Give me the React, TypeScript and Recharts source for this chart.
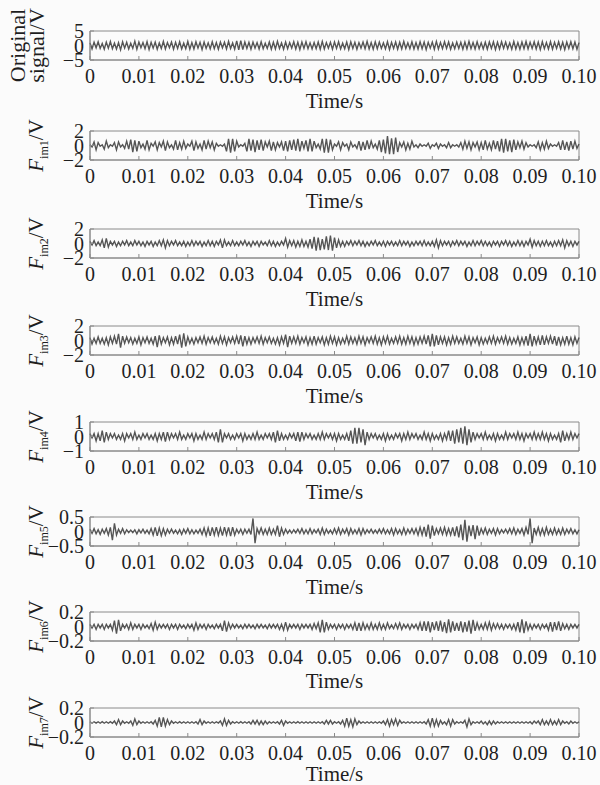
import { LineChart, Line, XAxis, YAxis, ReferenceArea, Label } from "recharts";

const ORIGINAL = [
  0.9, -1.2, 1.1, -0.8, 1.3, -1.0, 0.7, -1.3, 1.2, -0.9,
  1.4, -1.1, 0.8, -1.2, 1.0, -1.5, 1.3, -0.9, 1.1, -1.2,
  0.8, -1.0, 1.5, -1.3, 1.2, -0.8, 1.0, -1.1, 1.3, -1.4,
  1.1, -0.9, 1.2, -1.3, 0.9, -1.0, 1.4, -1.2, 1.0, -0.8,
  1.2, -1.3, 1.1, -1.0, 1.3, -1.2, 0.8, -1.1, 1.4, -1.3,
  1.0, -1.2, 1.3, -0.9, 1.1, -1.4, 1.2, -1.0, 0.9, -1.2,
  1.3, -1.1, 1.0, -1.3, 1.2, -0.8, 1.1, -1.2, 1.4, -1.0,
  0.9, -1.3, 1.6, -1.5, 1.7, -1.4, 1.2, -1.0, 1.1, -1.3,
  1.2, -0.9, 1.0, -1.2, 1.3, -1.1, 0.8, -1.0, 1.2, -1.3,
  1.1, -1.2, 1.4, -1.0, 0.9, -1.3, 1.2, -1.1, 1.0, -0.9,
  1.3, -1.2, 1.1, -1.4, 1.2, -1.0, 1.3, -1.1, 0.9, -1.2,
  1.0, -1.1, 1.2, -1.3, 1.4, -1.2, 1.0, -0.9, 1.1, -1.3,
  1.2, -1.0, 1.3, -1.2, 0.8, -1.1, 1.2, -1.4, 1.3, -1.0,
  1.1, -1.3, 1.0, -0.9, 1.2, -1.1, 1.4, -1.2, 1.0, -1.3,
  1.3, -1.1, 1.2, -1.0, 0.9, -1.2, 1.3, -1.4, 1.1, -1.0,
  1.2, -1.3, 1.1, -1.2, 1.4, -1.0, 0.9, -1.1, 1.3, -1.2,
  1.0, -1.2, 1.3, -1.1, 1.2, -1.4, 1.1, -0.9, 1.2, -1.3,
  1.4, -1.2, 1.0, -1.1, 1.3, -1.0, 1.2, -1.3, 0.9, -1.1,
  1.2, -1.0, 1.1, -1.3, 1.2, -1.2, 1.4, -1.1, 1.0, -1.2,
  1.3, -1.1, 0.9, -1.2, 1.1, -1.3, 1.2, -1.0, 1.3, -1.4,
  1.1, -1.2, 1.3, -1.0, 1.2, -1.1, 0.9, -1.3, 1.4, -1.2,
  1.0, -1.3, 1.2, -1.1, 1.4, -1.2, 1.1, -1.0, 1.3, -1.2,
  1.2, -1.4, 1.3, -1.1, 1.0, -1.2, 1.3, -1.3, 1.1, -1.0,
  1.3, -1.2, 1.1, -1.4, 1.2, -1.0, 1.3, -1.1, 1.2, -1.3,
  1.0,
];
const FIM1 = [
  0.1, -0.2, 0.5, -0.6, 0.4, -0.1, 0.1, -0.5, 0.6, -0.3,
  0.1, -0.1, 0.4, -0.6, 0.5, -0.2, 0.1, -0.4, 0.6, -0.5,
  0.8, -0.9, 0.7, -0.8, 0.6, -0.3, 0.2, -0.5, 0.7, -0.6,
  0.3, -0.1, 0.5, -0.6, 0.4, -0.2, 0.6, -0.7, 0.5, -0.3,
  0.1, -0.5, 0.7, -0.6, 0.4, -0.5, 0.6, -0.4, 0.2, -0.1,
  0.6, -0.7, 0.5, -0.4, 0.2, -0.6, 0.7, -0.5, 0.6, -0.3,
  0.5, -0.6, 0.3, -0.1, 0.1, -0.1, 0.2, -0.8, 0.9, -1.0,
  0.9, -0.8, 0.6, -0.2, 0.1, -0.1, 0.3, -0.8, 0.9, -0.7,
  0.8, -0.9, 0.7, -0.6, 0.8, -0.7, 0.5, -0.2, 0.6, -0.7,
  0.5, -0.6, 0.4, -0.2, 0.5, -0.7, 0.6, -0.8, 0.7, -0.6,
  0.8, -0.7, 0.9, -0.8, 0.6, -0.4, 0.7, -0.8, 0.9, -0.8,
  0.6, -0.3, 0.2, -0.5, 0.9, -1.0, 0.9, -1.0, 0.8, -0.6,
  0.2, -0.1, 0.5, -0.6, 0.4, -0.1, 0.2, -0.6, 0.5, -0.2,
  0.1, -0.4, 0.6, -0.7, 0.5, -0.6, 0.7, -0.5, 0.6, -0.3,
  0.2, -0.5, 0.7, -0.9, 0.8, -1.1, 1.3, -1.2, 1.0, -1.2,
  1.1, -0.9, 0.4, -0.2, 0.5, -0.6, 0.3, -0.5, 0.6, -0.2,
  0.1, -0.3, 0.2, -0.1, 0.1, -0.1, 0.3, -0.4, 0.1, -0.1,
  0.3, -0.4, 0.2, -0.1, 0.1, -0.3, 0.4, -0.3, 0.1, -0.1,
  0.1, -0.2, 0.4, -0.5, 0.6, -0.4, 0.5, -0.6, 0.4, -0.2,
  0.5, -0.6, 0.4, -0.6, 0.7, -0.5, 0.3, -0.6, 0.7, -0.5,
  0.6, -0.8, 0.9, -1.0, 0.9, -0.8, 0.7, -0.9, 0.8, -0.6,
  0.5, -0.3, 0.6, -0.5, 0.4, -0.2, 0.1, -0.1, 0.1, -0.3,
  0.5, -0.6, 0.4, -0.5, 0.6, -0.4, 0.2, -0.1, 0.1, -0.1,
  0.4, -0.6, 0.7, -0.6, 0.5, -0.7, 0.6, -0.5, 0.6, -0.4,
  0.2,
];
const FIM2 = [
  0.3, -0.2, 0.4, -0.3, 0.2, -0.3, 0.5, -0.6, 0.7, -0.5,
  0.3, -0.2, 0.3, -0.4, 0.2, -0.3, 0.3, -0.2, 0.4, -0.3,
  0.2, -0.3, 0.4, -0.2, 0.3, -0.3, 0.2, -0.4, 0.3, -0.2,
  0.3, -0.4, 0.2, -0.3, 0.4, -0.3, 0.5, -0.6, 0.4, -0.3,
  0.3, -0.2, 0.4, -0.3, 0.2, -0.3, 0.3, -0.4, 0.2, -0.3,
  0.4, -0.3, 0.3, -0.2, 0.3, -0.4, 0.2, -0.3, 0.4, -0.3,
  0.3, -0.4, 0.3, -0.2, 0.5, -0.6, 0.5, -0.3, 0.2, -0.3,
  0.4, -0.3, 0.2, -0.3, 0.3, -0.2, 0.4, -0.3, 0.2, -0.4,
  0.3, -0.2, 0.3, -0.4, 0.3, -0.2, 0.2, -0.3, 0.4, -0.3,
  0.3, -0.4, 0.2, -0.3, 0.3, -0.2, 0.7, -0.5, 0.4, -0.3,
  0.4, -0.5, 0.3, -0.4, 0.5, -0.4, 0.3, -0.5, 0.6, -0.7,
  0.9, -1.0, 0.8, -0.9, 0.6, -0.8, 1.0, -0.9, 1.1, -1.0,
  0.8, -0.6, 0.5, -0.4, 0.3, -0.4, 0.3, -0.2, 0.4, -0.3,
  0.3, -0.2, 0.4, -0.3, 0.3, -0.4, 0.2, -0.3, 0.3, -0.2,
  0.4, -0.3, 0.2, -0.3, 0.3, -0.4, 0.3, -0.2, 0.3, -0.3,
  0.2, -0.3, 0.4, -0.3, 0.3, -0.2, 0.3, -0.4, 0.2, -0.3,
  0.3, -0.2, 0.3, -0.3, 0.4, -0.3, 0.2, -0.3, 0.3, -0.4,
  0.5, -0.6, 0.4, -0.3, 0.3, -0.2, 0.3, -0.4, 0.3, -0.2,
  0.4, -0.3, 0.3, -0.2, 0.3, -0.4, 0.2, -0.3, 0.4, -0.3,
  0.3, -0.2, 0.4, -0.3, 0.3, -0.3, 0.2, -0.4, 0.3, -0.2,
  0.3, -0.4, 0.3, -0.2, 0.4, -0.3, 0.3, -0.4, 0.2, -0.3,
  0.4, -0.3, 0.3, -0.4, 0.3, -0.2, 0.6, -0.5, 0.4, -0.3,
  0.3, -0.4, 0.3, -0.3, 0.4, -0.3, 0.2, -0.4, 0.3, -0.3,
  0.4, -0.3, 0.5, -0.6, 0.4, -0.3, 0.3, -0.4, 0.3, -0.2,
  0.3,
];
const FIM3 = [
  0.4, -0.5, 0.3, -0.4, 0.5, -0.4, 0.3, -0.5, 0.4, -0.6,
  0.5, -0.4, 0.6, -0.5, 0.9, -1.0, 0.6, -0.4, 0.5, -0.3,
  0.4, -0.5, 0.3, -0.4, 0.5, -0.6, 0.4, -0.3, 0.5, -0.4,
  0.3, -0.5, 0.6, -0.9, 0.7, -0.5, 0.4, -0.3, 0.5, -0.6,
  0.4, -0.5, 0.6, -0.5, 0.8, -1.0, 1.0, -0.8, 0.5, -0.4,
  0.3, -0.5, 0.4, -0.3, 0.5, -0.4, 0.6, -0.5, 0.4, -0.3,
  0.5, -0.4, 0.3, -0.5, 0.6, -0.4, 0.5, -0.6, 0.4, -0.3,
  0.5, -0.4, 0.6, -0.5, 0.7, -0.8, 0.6, -0.5, 0.4, -0.5,
  0.4, -0.3, 0.5, -0.4, 0.6, -0.5, 0.4, -0.3, 0.5, -0.4,
  0.3, -0.5, 0.4, -0.6, 0.5, -0.4, 0.8, -0.9, 0.6, -0.4,
  0.5, -0.4, 0.6, -0.5, 0.4, -0.3, 0.5, -0.6, 0.4, -0.5,
  0.6, -0.5, 0.4, -0.3, 0.5, -0.6, 0.4, -0.5, 0.6, -0.4,
  0.5, -0.6, 0.4, -0.5, 0.3, -0.4, 0.6, -0.5, 0.5, -0.4,
  0.4, -0.5, 0.6, -0.4, 0.5, -0.6, 0.4, -0.3, 0.5, -0.4,
  0.6, -0.5, 0.4, -0.6, 0.5, -0.4, 0.6, -0.5, 0.3, -0.4,
  0.5, -0.4, 0.6, -0.5, 0.4, -0.5, 0.6, -0.4, 0.5, -0.6,
  0.4, -0.5, 0.5, -0.4, 0.6, -0.5, 0.7, -0.8, 0.9, -0.8,
  0.7, -0.6, 0.5, -0.4, 0.5, -0.6, 0.4, -0.5, 0.6, -0.4,
  0.5, -0.4, 0.3, -0.5, 0.6, -0.4, 0.5, -0.6, 0.4, -0.3,
  0.5, -0.6, 0.4, -0.5, 0.3, -0.4, 0.5, -0.4, 0.6, -0.5,
  0.4, -0.3, 0.5, -0.4, 0.6, -0.5, 0.4, -0.5, 0.3, -0.4,
  0.5, -0.6, 0.4, -0.5, 0.6, -0.7, 0.9, -0.8, 0.6, -0.5,
  0.5, -0.6, 0.7, -0.6, 0.5, -0.4, 0.6, -0.5, 0.6, -0.7,
  0.5, -0.6, 0.4, -0.5, 0.6, -0.5, 0.4, -0.6, 0.5, -0.4,
  0.4,
];
const FIM4 = [
  0.2, -0.1, 0.2, -0.3, 0.2, -0.3, 0.4, -0.4, 0.3, -0.2,
  0.2, -0.1, 0.2, -0.2, 0.1, -0.2, 0.2, -0.3, 0.2, -0.1,
  0.2, -0.2, 0.3, -0.2, 0.1, -0.2, 0.2, -0.1, 0.2, -0.2,
  0.1, -0.2, 0.2, -0.3, 0.2, -0.2, 0.3, -0.35, 0.3, -0.2,
  0.2, -0.1, 0.2, -0.2, 0.3, -0.2, 0.1, -0.2, 0.2, -0.1,
  0.2, -0.3, 0.2, -0.2, 0.1, -0.2, 0.3, -0.2, 0.2, -0.1,
  0.2, -0.2, 0.3, -0.4, 0.5, -0.4, 0.2, -0.1, 0.2, -0.2,
  0.1, -0.2, 0.2, -0.1, 0.2, -0.3, 0.2, -0.2, 0.1, -0.2,
  0.2, -0.2, 0.3, -0.2, 0.1, -0.2, 0.2, -0.1, 0.2, -0.2,
  0.3, -0.4, 0.4, -0.3, 0.2, -0.2, 0.1, -0.2, 0.2, -0.1,
  0.2, -0.3, 0.3, -0.35, 0.3, -0.2, 0.2, -0.1, 0.2, -0.2,
  0.1, -0.2, 0.2, -0.2, 0.3, -0.2, 0.2, -0.1, 0.2, -0.2,
  0.2, -0.3, 0.2, -0.2, 0.1, -0.2, 0.2, -0.3, 0.4, -0.5,
  0.6, -0.5, 0.6, -0.4, 0.5, -0.6, 0.3, -0.2, 0.2, -0.1,
  0.2, -0.2, 0.1, -0.2, 0.2, -0.3, 0.2, -0.2, 0.1, -0.2,
  0.2, -0.1, 0.2, -0.3, 0.2, -0.2, 0.3, -0.2, 0.2, -0.1,
  0.2, -0.2, 0.1, -0.2, 0.3, -0.2, 0.2, -0.3, 0.2, -0.2,
  0.1, -0.2, 0.2, -0.3, 0.2, -0.2, 0.4, -0.3, 0.4, -0.5,
  0.5, -0.4, 0.6, -0.5, 0.7, -0.6, 0.5, -0.4, 0.3, -0.2,
  0.2, -0.1, 0.2, -0.2, 0.3, -0.2, 0.1, -0.2, 0.2, -0.3,
  0.2, -0.2, 0.1, -0.2, 0.3, -0.2, 0.2, -0.1, 0.2, -0.2,
  0.3, -0.2, 0.2, -0.3, 0.2, -0.1, 0.2, -0.2, 0.3, -0.2,
  0.2, -0.2, 0.3, -0.2, 0.2, -0.3, 0.2, -0.2, 0.1, -0.2,
  0.2, -0.4, 0.4, -0.3, 0.2, -0.2, 0.3, -0.2, 0.2, -0.1,
  0.2,
];
const FIM5 = [
  0.08, -0.06, 0.1, -0.08, 0.06, -0.1, 0.08, -0.06, 0.1, -0.12,
  0.14, -0.3, 0.28, -0.12, 0.08, -0.06, 0.1, -0.08, 0.06, -0.04,
  0.05, -0.04, 0.06, -0.08, 0.06, -0.05, 0.08, -0.06, 0.05, -0.08,
  0.1, -0.12, 0.14, -0.15, 0.12, -0.14, 0.1, -0.12, 0.08, -0.06,
  0.08, -0.06, 0.05, -0.08, 0.06, -0.1, 0.08, -0.06, 0.1, -0.08,
  0.06, -0.08, 0.05, -0.06, 0.08, -0.1, 0.12, -0.14, 0.12, -0.15,
  0.14, -0.12, 0.15, -0.13, 0.12, -0.14, 0.15, -0.12, 0.14, -0.16,
  0.15, -0.12, 0.08, -0.06, 0.08, -0.1, 0.08, -0.06, 0.08, -0.1,
  0.45, -0.4, 0.1, -0.08, 0.12, -0.1, 0.08, -0.1, 0.12, -0.1,
  0.08, -0.1, 0.2, -0.18, 0.12, -0.1, 0.08, -0.06, 0.05, -0.06,
  0.06, -0.05, 0.08, -0.06, 0.1, -0.08, 0.06, -0.08, 0.1, -0.08,
  0.06, -0.05, 0.08, -0.1, 0.12, -0.1, 0.08, -0.06, 0.05, -0.08,
  0.1, -0.08, 0.12, -0.1, 0.08, -0.06, 0.1, -0.12, 0.1, -0.08,
  0.06, -0.08, 0.1, -0.12, 0.1, -0.08, 0.06, -0.05, 0.08, -0.06,
  0.05, -0.06, 0.08, -0.06, 0.1, -0.08, 0.06, -0.08, 0.1, -0.12,
  0.1, -0.08, 0.06, -0.1, 0.12, -0.1, 0.08, -0.06, 0.1, -0.08,
  0.1, -0.12, 0.14, -0.12, 0.16, -0.18, 0.24, -0.25, 0.2, -0.14,
  0.1, -0.08, 0.12, -0.1, 0.14, -0.12, 0.1, -0.12, 0.14, -0.16,
  0.18, -0.2, 0.24, -0.3, 0.4, -0.35, 0.2, -0.16, 0.22, -0.26,
  0.2, -0.14, 0.1, -0.08, 0.12, -0.1, 0.08, -0.06, 0.1, -0.12,
  0.1, -0.08, 0.06, -0.05, 0.08, -0.06, 0.1, -0.08, 0.12, -0.1,
  0.08, -0.06, 0.1, -0.12, 0.14, -0.1, 0.45, -0.4, 0.12, -0.1,
  0.14, -0.12, 0.1, -0.12, 0.14, -0.1, 0.08, -0.1, 0.12, -0.1,
  0.08, -0.1, 0.12, -0.1, 0.08, -0.06, 0.1, -0.08, 0.06, -0.08,
  0.06,
];
const FIM6 = [
  0.03, -0.02, 0.03, -0.04, 0.03, -0.02, 0.03, -0.04, 0.03, -0.02,
  0.03, -0.05, 0.08, -0.1, 0.09, -0.06, 0.03, -0.02, 0.03, -0.04,
  0.05, -0.04, 0.03, -0.02, 0.03, -0.04, 0.03, -0.02, 0.02, -0.03,
  0.04, -0.05, 0.06, -0.04, 0.03, -0.02, 0.03, -0.02, 0.03, -0.04,
  0.03, -0.02, 0.03, -0.04, 0.03, -0.02, 0.02, -0.03, 0.03, -0.02,
  0.03, -0.05, 0.05, -0.04, 0.03, -0.02, 0.03, -0.04, 0.03, -0.02,
  0.02, -0.03, 0.03, -0.02, 0.03, -0.06, 0.08, -0.07, 0.05, -0.03,
  0.03, -0.02, 0.03, -0.02, 0.02, -0.03, 0.03, -0.02, 0.03, -0.02,
  0.02, -0.03, 0.03, -0.02, 0.03, -0.02, 0.02, -0.03, 0.03, -0.02,
  0.03, -0.02, 0.03, -0.04, 0.03, -0.05, 0.06, -0.05, 0.03, -0.02,
  0.03, -0.02, 0.03, -0.04, 0.03, -0.02, 0.03, -0.02, 0.03, -0.04,
  0.04, -0.03, 0.05, -0.08, 0.09, -0.08, 0.06, -0.04, 0.03, -0.02,
  0.03, -0.04, 0.03, -0.02, 0.03, -0.04, 0.03, -0.02, 0.03, -0.04,
  0.05, -0.06, 0.05, -0.06, 0.05, -0.04, 0.03, -0.04, 0.05, -0.04,
  0.03, -0.04, 0.05, -0.04, 0.03, -0.04, 0.05, -0.03, 0.02, -0.03,
  0.04, -0.03, 0.05, -0.04, 0.03, -0.02, 0.03, -0.04, 0.03, -0.02,
  0.03, -0.04, 0.05, -0.06, 0.07, -0.06, 0.07, -0.08, 0.06, -0.05,
  0.07, -0.06, 0.08, -0.07, 0.06, -0.09, 0.1, -0.08, 0.07, -0.06,
  0.05, -0.06, 0.07, -0.08, 0.06, -0.07, 0.08, -0.1, 0.09, -0.06,
  0.05, -0.04, 0.03, -0.04, 0.05, -0.04, 0.06, -0.05, 0.04, -0.03,
  0.04, -0.03, 0.03, -0.04, 0.03, -0.02, 0.03, -0.04, 0.03, -0.05,
  0.06, -0.08, 0.1, -0.09, 0.07, -0.05, 0.03, -0.04, 0.03, -0.02,
  0.03, -0.04, 0.03, -0.02, 0.03, -0.05, 0.06, -0.07, 0.06, -0.05,
  0.07, -0.06, 0.04, -0.03, 0.03, -0.04, 0.03, -0.02, 0.03, -0.02,
  0.03,
];
const FIM7 = [
  0.01, -0.01, 0.01, -0.008, 0.01, -0.01, 0.012, -0.01, 0.01, -0.01,
  0.012, -0.01, 0.02, -0.03, 0.04, -0.03, 0.02, -0.01, 0.01, -0.01,
  0.02, -0.04, 0.05, -0.03, 0.02, -0.01, 0.01, -0.01, 0.01, -0.01,
  0.01, -0.02, 0.03, -0.05, 0.07, -0.06, 0.07, -0.05, 0.04, -0.03,
  0.02, -0.01, 0.01, -0.01, 0.012, -0.01, 0.01, -0.01, 0.01, -0.01,
  0.01, -0.01, 0.01, -0.02, 0.04, -0.03, 0.02, -0.01, 0.01, -0.01,
  0.01, -0.01, 0.01, -0.008, 0.02, -0.04, 0.05, -0.04, 0.03, -0.02,
  0.01, -0.01, 0.01, -0.01, 0.012, -0.01, 0.01, -0.01, 0.01, -0.02,
  0.03, -0.02, 0.03, -0.03, 0.02, -0.03, 0.02, -0.02, 0.01, -0.01,
  0.01, -0.01, 0.01, -0.02, 0.03, -0.04, 0.02, -0.01, 0.01, -0.01,
  0.01, -0.01, 0.012, -0.01, 0.01, -0.01, 0.01, -0.01, 0.01, -0.01,
  0.01, -0.01, 0.01, -0.01, 0.01, -0.02, 0.03, -0.02, 0.03, -0.02,
  0.01, -0.01, 0.01, -0.02, 0.03, -0.05, 0.06, -0.05, 0.04, -0.06,
  0.05, -0.03, 0.02, -0.01, 0.01, -0.01, 0.01, -0.01, 0.01, -0.01,
  0.01, -0.01, 0.01, -0.01, 0.02, -0.03, 0.04, -0.05, 0.04, -0.03,
  0.05, -0.04, 0.03, -0.01, 0.01, -0.01, 0.01, -0.01, 0.01, -0.01,
  0.01, -0.01, 0.01, -0.01, 0.01, -0.02, 0.04, -0.05, 0.06, -0.05,
  0.04, -0.05, 0.03, -0.02, 0.01, -0.03, 0.04, -0.05, 0.04, -0.02,
  0.01, -0.01, 0.01, -0.01, 0.03, -0.06, 0.05, -0.03, 0.01, -0.01,
  0.01, -0.01, 0.02, -0.02, 0.01, -0.03, 0.02, -0.03, 0.02, -0.02,
  0.01, -0.01, 0.01, -0.01, 0.01, -0.01, 0.01, -0.01, 0.01, -0.01,
  0.01, -0.01, 0.01, -0.01, 0.01, -0.01, 0.01, -0.02, 0.02, -0.01,
  0.02, -0.03, 0.04, -0.03, 0.02, -0.03, 0.04, -0.03, 0.02, -0.03,
  0.04, -0.03, 0.02, -0.01, 0.01, -0.02, 0.02, -0.01, 0.01, -0.01,
  0.01,
];

const X_TICKS = [0, 0.01, 0.02, 0.03, 0.04, 0.05, 0.06, 0.07, 0.08, 0.09, 0.1];
const DURATION = 0.1;

const PANELS = [
  { sub: null, limit: 5, values: ORIGINAL, top: 31, timeOffset: 7 },
  { sub: "im1", limit: 2, values: FIM1, top: 131, timeOffset: 7 },
  { sub: "im2", limit: 2, values: FIM2, top: 229, timeOffset: 7 },
  { sub: "im3", limit: 2, values: FIM3, top: 326, timeOffset: 7 },
  { sub: "im4", limit: 1, values: FIM4, top: 422, timeOffset: 7 },
  { sub: "im5", limit: 0.5, values: FIM5, top: 517, timeOffset: 7 },
  { sub: "im6", limit: 0.2, values: FIM6, top: 612, timeOffset: 8 },
  { sub: "im7", limit: 0.2, values: FIM7, top: 708, timeOffset: 11 },
];

const FONT = "'Liberation Serif', 'Times New Roman', serif";
const BOX = "#8a8a8a";
const TXT = "#1e1e1e";
const PAD_TOP = 30;

const fmtX = (v: number) => (v === 0 ? "0" : v.toFixed(2));
const fmtY = (v: number) => (v === 0 ? "0" : (v < 0 ? "\u2212" : "") + Math.abs(v));

function YLabel({ viewBox, sub }: any) {
  const cy = viewBox.y + viewBox.height / 2;
  if (!sub) {
    return (
      <g fontFamily={FONT} fontSize={22} fill={TXT}>
        <text x={25} y={cy} textAnchor="middle" transform={`rotate(-90 25 ${cy})`}>
          Original
        </text>
        <text x={44} y={cy} textAnchor="middle" transform={`rotate(-90 44 ${cy})`}>
          signal/V
        </text>
      </g>
    );
  }
  return (
    <text
      x={43}
      y={cy}
      textAnchor="middle"
      transform={`rotate(-90 43 ${cy})`}
      fontFamily={FONT}
      fontSize={21}
      fill={TXT}
    >
      <tspan fontStyle="italic">F</tspan>
      <tspan fontSize={12} dy={5}>
        {sub}
      </tspan>
      <tspan dy={-5}>/V</tspan>
    </text>
  );
}

function Panel({ sub, limit, values, top, timeOffset }: any) {
  const data = values.map((v: number, i: number) => ({
    t: (i * DURATION) / (values.length - 1),
    v,
  }));
  const yTicks = [-limit, 0, limit];
  const tickStyle = { fill: TXT, fontSize: 20, fontFamily: FONT };
  return (
    <div style={{ position: "absolute", left: 0, top: top - PAD_TOP }}>
      <LineChart
        width={600}
        height={PAD_TOP + 29 + 55}
        data={data}
        margin={{ top: PAD_TOP, right: 21, bottom: 0, left: 30 }}
      >
        <XAxis
          dataKey="t"
          type="number"
          domain={[0, DURATION]}
          ticks={X_TICKS}
          interval={0}
          tickFormatter={fmtX}
          height={55}
          tickSize={-4}
          tickMargin={13}
          stroke={BOX}
          tick={tickStyle}
        >
          <Label
            value="Time/s"
            position="insideBottom"
            offset={timeOffset}
            style={{ fill: TXT, fontSize: 21, fontFamily: FONT }}
          />
        </XAxis>
        <XAxis
          xAxisId="top"
          orientation="top"
          dataKey="t"
          type="number"
          domain={[0, DURATION]}
          ticks={X_TICKS}
          interval={0}
          height={0}
          tickSize={-4}
          tickFormatter={() => ""}
          stroke={BOX}
        />
        <YAxis
          type="number"
          domain={[-limit, limit]}
          ticks={yTicks}
          interval={0}
          allowDataOverflow
          width={60}
          tickSize={-4}
          tickMargin={10}
          tickFormatter={fmtY}
          stroke={BOX}
          tick={tickStyle}
          label={{ content: (p: any) => <YLabel {...p} sub={sub} /> }}
        />
        <ReferenceArea
          x1={0}
          x2={DURATION}
          y1={-limit}
          y2={limit}
          fill="none"
          stroke={BOX}
          strokeWidth={1}
          ifOverflow="visible"
        />
        <Line
          dataKey="v"
          type="linear"
          stroke="#555555"
          strokeWidth={1.4}
          dot={false}
          isAnimationActive={false}
        />
      </LineChart>
    </div>
  );
}

export default function App() {
  return (
    <div
      style={{
        position: "absolute",
        left: 0,
        top: 0,
        width: 600,
        height: 785,
        overflow: "hidden",
        background: "#fbfbfb",
      }}
    >
      {PANELS.map((p, i) => (
        <Panel key={i} {...p} />
      ))}
    </div>
  );
}
